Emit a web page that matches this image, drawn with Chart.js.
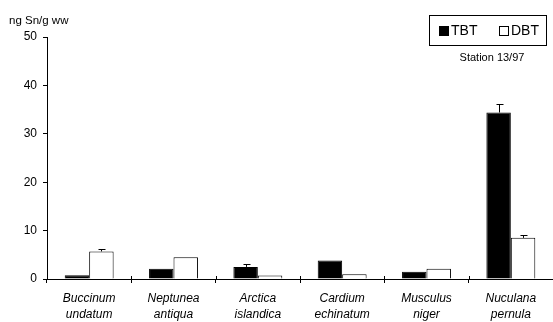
<!DOCTYPE html>
<html>
<head>
<meta charset="utf-8">
<script src="https://cdn.jsdelivr.net/npm/chart.js@4"></script>
<style>
  html, body { margin: 0; padding: 0; background: #fff; }
  #wrap { width: 553px; height: 322px; }
</style>
</head>
<body>
<div id="wrap"><canvas id="chart" width="553" height="322"></canvas></div>
<script>
// ------------------------------
// Data
// ------------------------------
const species = [
  ["Buccinum", "undatum"],
  ["Neptunea", "antiqua"],
  ["Arctica", "islandica"],
  ["Cardium", "echinatum"],
  ["Musculus", "niger"],
  ["Nuculana", "pernula"]
];
const tbt = [0.8, 2.1, 2.5, 3.8, 1.5, 34.4];
const dbt = [5.7, 4.5, 0.7, 1.0, 2.1, 8.5];
// upward error (SD) on top of each bar, 0 = none shown
const tbtErr = [0, 0, 0.6, 0, 0, 1.8];
const dbtErr = [0.4, 0, 0, 0, 0, 0.5];
const yTicks = [0, 10, 20, 30, 40, 50];
const yTitle = "ng Sn/g ww";
const station = "Station 13/97";

const FONT = "Arial, 'Liberation Sans', sans-serif";

// error bars + legend box + titles
const extras = {
  id: "extras",
  afterDatasetsDraw(chart) {
    const { ctx } = chart;
    const y = chart.scales.y;
    const errs = [tbtErr, dbtErr];
    ctx.save();
    ctx.strokeStyle = "#000";
    ctx.lineWidth = 1;
    chart.data.datasets.forEach((ds, di) => {
      const meta = chart.getDatasetMeta(di);
      meta.data.forEach((bar, i) => {
        const e = errs[di][i];
        if (!e) return;
        const top = Math.round(y.getPixelForValue(ds.data[i] + e)) + 0.5;
        const x = Math.round(bar.x) + 0.5;
        ctx.beginPath();
        ctx.moveTo(x, bar.y);
        ctx.lineTo(x, top);
        ctx.moveTo(x - 3, top);
        ctx.lineTo(x + 4, top);
        ctx.stroke();
      });
    });
    // boundary ticks cross the x axis slightly
    const xs = chart.scales.x;
    const step = (xs.right - xs.left) / species.length;
    ctx.beginPath();
    for (let i = 1; i < species.length; i++) {
      const x = Math.round(xs.left + step * i) + 0.5;
      ctx.moveTo(x, xs.top - 3);
      ctx.lineTo(x, xs.top);
    }
    ctx.stroke();
    ctx.restore();
  },
  afterDraw(chart) {
    const { ctx } = chart;
    ctx.save();
    ctx.fillStyle = "#000";
    ctx.font = "11.5px " + FONT;
    ctx.textBaseline = "middle";
    ctx.textAlign = "left";
    ctx.fillText(yTitle, 9, 21);

    // legend box
    ctx.strokeStyle = "#000";
    ctx.lineWidth = 1;
    ctx.strokeRect(429.5, 15.5, 117, 30);
    ctx.font = "14px " + FONT;
    chart.data.datasets.forEach((ds, i) => {
      const x0 = i === 0 ? 439 : 499;
      ctx.fillStyle = ds.backgroundColor;
      ctx.fillRect(x0, 26, 10, 10);
      ctx.strokeRect(x0 + 0.5, 26.5, 9, 9);
      ctx.fillStyle = "#000";
      ctx.fillText(ds.label, x0 + 12, 31);
    });
    ctx.font = "11px " + FONT;
    ctx.textAlign = "center";
    ctx.fillText(station, 492, 58);
    ctx.restore();
  }
};

new Chart(document.getElementById("chart"), {
  type: "bar",
  data: {
    labels: species,
    datasets: [
      { label: "TBT", data: tbt, backgroundColor: "#000", borderColor: "#000", borderWidth: 1 },
      { label: "DBT", data: dbt, backgroundColor: "#fff", borderColor: "#000", borderWidth: 1 }
    ]
  },
  options: {
    responsive: false,
    animation: false,
    devicePixelRatio: 1,
    layout: { padding: { top: 37, right: 0, left: 0, bottom: 0 } },
    datasets: { bar: { categoryPercentage: 0.58, barPercentage: 1.0 } },
    plugins: { legend: { display: false }, tooltip: { enabled: false } },
    scales: {
      x: {
        grid: { offset: true, drawOnChartArea: false, color: "#000", tickLength: 4 },
        border: { color: "#000", width: 1 },
        ticks: { color: "#000", font: { family: FONT, size: 12, style: "italic", lineHeight: 1.33 }, maxRotation: 0, padding: 8 },
        afterFit(scale) { scale.height = 43; }
      },
      y: {
        min: 0,
        max: 50,
        afterBuildTicks(scale) { scale.ticks = yTicks.map(v => ({ value: v })); },
        grid: { drawOnChartArea: false, color: "#000", tickLength: 4 },
        border: { color: "#000", width: 1 },
        ticks: { color: "#000", font: { family: FONT, size: 12 }, padding: 6 },
        afterFit(scale) { scale.width = 47; }
      }
    }
  },
  plugins: [extras]
});
</script>
</body>
</html>
